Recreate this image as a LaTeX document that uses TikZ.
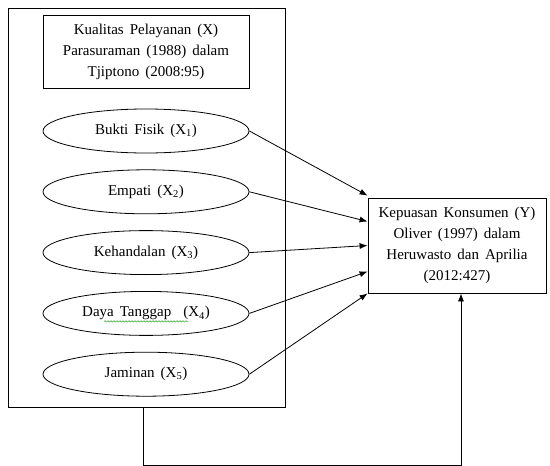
\documentclass[tikz,border=0pt]{standalone}
\usepackage{fontspec}
\setmainfont[WordSpace=1.6]{Liberation Serif}
\usetikzlibrary{arrows.meta,positioning,shapes.geometric,decorations.pathmorphing}

\begin{document}
\begin{tikzpicture}[x=1pt, y=-1pt, node distance=16pt, line width=0.8pt, >={Latex[length=8pt,width=6pt]},
    every node/.style={font=\fontsize{15}{21}\selectfont},
    ell/.style={draw, ellipse, minimum width=206pt, minimum height=44pt, inner sep=0pt}]
    \useasboundingbox (0,0) rectangle (550,466);
    \node[draw, minimum width=277pt, minimum height=399pt] (grp) at (146.5,207.5) {};
    \node[draw, align=center, minimum width=206pt, minimum height=73pt] (judul) at (146,51.5) {Kualitas Pelayanan (X)\\Parasuraman (1988) dalam\\Tjiptono (2008:95)};
    \node[ell] (bukti) at (146,131) {Bukti Fisik (X\textsubscript{1})};
    \node[ell, below=of bukti] (empati) {Empati (X\textsubscript{2})};
    \node[ell, below=of empati] (handal) {Kehandalan (X\textsubscript{3})};
    \node[ell, below=of handal] (tanggap) {Daya Tanggap\ \ (X\textsubscript{4})};
    \node[ell, below=of tanggap] (jaminan) {Jaminan (X\textsubscript{5})};
    \node[draw, align=center, minimum width=178pt, minimum height=95pt] (kepuasan) at (457,245.5) {Kepuasan Konsumen (Y)\\Oliver (1997) dalam\\Heruwasto dan Aprilia\\(2012:427)};
    \draw[->] (bukti.east) -- ([yshift=2pt]kepuasan.north west);
    \draw[->] (empati.east) -- ([yshift=24pt]kepuasan.west);
    \draw[->] (handal.east) -- (kepuasan.west);
    \draw[->] (tanggap.east) -- ([yshift=-26pt]kepuasan.west);
    \draw[->] (jaminan.east) -- (kepuasan.south west);
    \draw[->] ([xshift=-3.5pt]grp.south) -- ++(0,58) -| ([xshift=4pt]kepuasan.south);
    % spell-check squiggle
    \draw[green!60!black, thin, decorate, decoration={snake, amplitude=0.7pt, segment length=3pt}] ([xshift=-42pt,yshift=-8pt]tanggap.center) -- ++(84,0);
\end{tikzpicture}
\end{document}
